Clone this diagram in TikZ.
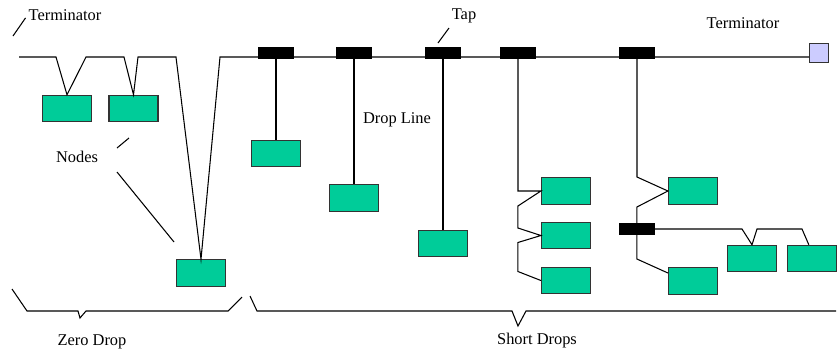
\documentclass[tikz,border=0pt]{standalone}
\usepackage{fontspec}
\setmainfont{Liberation Serif}
\newfontfamily\labelfont{Liberation Serif}
\definecolor{stationfill}{HTML}{00CC99}
\definecolor{termfill}{HTML}{CCCCFF}
\definecolor{boxedge}{HTML}{333333}

\begin{document}
\begin{tikzpicture}[
  x=0.03cm,
  y=-0.03cm,
  line join=miter,
  wire/.style={draw=black,line width=0.9pt},
  station/.style={rectangle,fill=stationfill,draw=boxedge,line width=1pt,
    minimum width=1.47cm,minimum height=0.79cm,inner sep=0pt},
  tapbox/.style={rectangle,fill=black,minimum width=1.08cm,minimum height=0.37cm,inner sep=0pt},
  termbox/.style={rectangle,fill=termfill,draw=boxedge,line width=1.2pt,minimum size=0.58cm,inner sep=0pt},
  lbl/.style={font=\labelfont\fontsize{14}{16}\selectfont,inner sep=0pt}
]
  \useasboundingbox (0,0) rectangle (838,354);

  % Stations hanging straight off the trunk (zero drop).
  \node[station] (n1) at (67,108.5) {};
  \node[station] (n2) at (133.5,108.5) {};
  \node[station] (n3) at (201,273) {};

  % Stations reached through a tap and a short drop line.
  \node[station] (d1) at (276,153.5) {};
  \node[station] (d2) at (354,198) {};
  \node[station] (d3) at (443,243.5) {};
  \node[station] (s1) at (566,191) {};
  \node[station] (s2) at (566,235.5) {};
  \node[station] (s3) at (566,280.5) {};
  \node[station] (t1) at (693,191) {};
  \node[station] (t2) at (693,281) {};
  \node[station] (b1) at (752,258.5) {};
  \node[station] (b2) at (812,258.5) {};

  % Terminator at the right end of the trunk.
  \node[termbox] (termR) at (819,53) {};
  \coordinate (trunkL) at (19,57);
  \coordinate (trunkR) at (809,57);

  % Trunk line, dipping down to each zero-drop station.
  \draw[wire] (trunkL) -- (56,57) -- (n1.north) -- (86,57) -- (124,57)
    -- (n2.north) -- (138,57) -- (176,57) -- (n3.north) -- (220,57) -- (trunkR);

  % Taps on the trunk.
  \node[tapbox] (tap1) at (276,53) {};
  \node[tapbox] (tap2) at (354,53) {};
  \node[tapbox] (tap3) at (443,53) {};
  \node[tapbox] (tap4) at (518,53) {};
  \node[tapbox] (tap5) at (637,53) {};

  % Plain drop lines.
  \foreach \t/\d in {tap1/d1,tap2/d2,tap3/d3} {
    \draw[wire] (\t.center) -- (\d.north);
  }

  % Daisy chain on the fourth drop.
  \draw[wire] (tap4.center) |- (s1.west) -- ++(-23,15) -- ++(0,22) -- (s2.west)
    -- ++(-23,7) -- ++(0,29) -- (s3.west);

  % Fifth drop, with a second tap branching off it.
  \draw[wire] (tap5.center) -- ++(0,124) -- (t1.west) -- ++(-31,16) -- ++(0,52) -- ++(31,14);
  \node[tapbox] (tap6) at (637,229) {};
  \draw[wire] (tap6.center) -- (742,229) -- (b1.north) -- (757,229) -- (802,229)
    -- ([xshift=18.7pt]b2.north west);

  % Labels and their pointer lines.
  \node[lbl] (termL) at (65,15) {Terminator};
  \coordinate (termLtip) at (13,36);
  \draw[wire] ([xshift=-2.5pt,yshift=-2.5pt]termL.west) -- (termLtip);

  \node[lbl] (termRlbl) at (743,23) {Terminator};

  \node[lbl] (tapLbl) at (464,16) {Tap};
  \coordinate (tapTip) at (438,43);
  \coordinate (tapFoot) at (449,28);
  \draw[wire] (tapFoot) -- (tapTip);

  \node[lbl] (dropLbl) at (397,120) {Drop Line};

  \node[lbl] (nodesLbl) at (77,157) {Nodes};
  \coordinate (nodesUpA) at (117,148);
  \coordinate (nodesUpB) at (129,138);
  \coordinate (nodesDnA) at (117,172);
  \coordinate (nodesDnB) at (174,242);
  \draw[wire] (nodesUpA) -- (nodesUpB);
  \draw[wire] (nodesDnA) -- (nodesDnB);

  % Braces under the two groups.
  \draw[wire] (12,289) -- (27,311) -- (78,311) -- (80,318) -- (86,311) -- (228,311) -- (242,297);
  \draw[wire] (250,296) -- (257,311) -- (512,311) -- (518,326) -- (526,311) -- (836,311);
  \node[lbl] (zeroLbl) at (92,342) {Zero Drop};
  \node[lbl] (shortLbl) at (537,341) {Short Drops};
\end{tikzpicture}
\end{document}
